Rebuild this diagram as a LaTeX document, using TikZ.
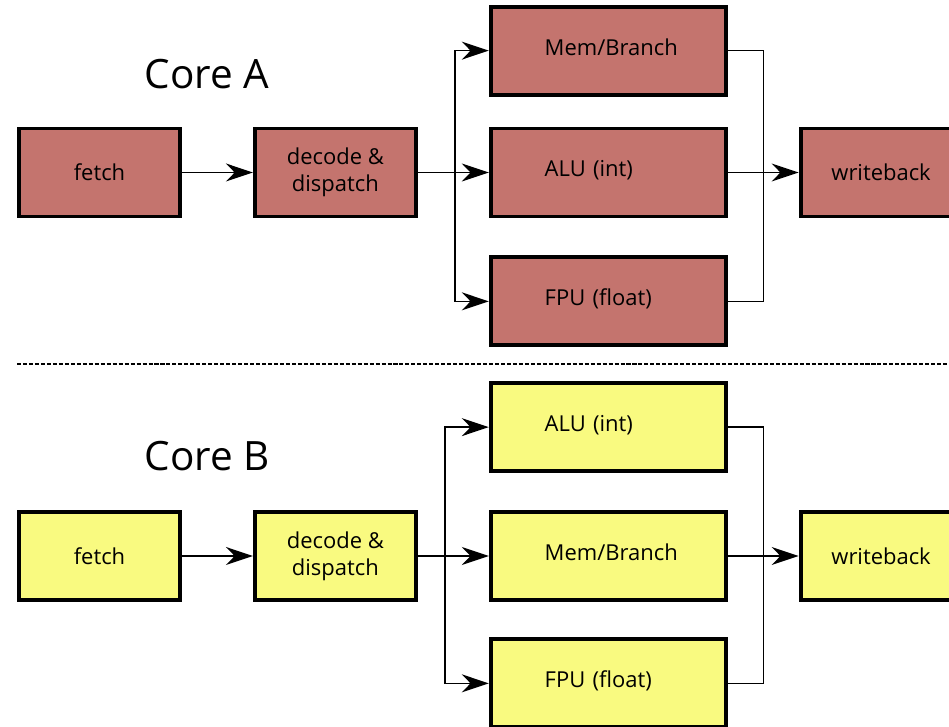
\documentclass[tikz,border=0pt]{standalone}
\usepackage{fontspec}
\setmainfont{Open Sans}
\usetikzlibrary{arrows.meta, positioning}

\definecolor{coreAred}{RGB}{196,116,110}
\definecolor{coreByellow}{RGB}{249,250,128}

\begin{document}
\begin{tikzpicture}[
		node distance=1.42cm and 1.42cm,
		every node/.style={font=\fontsize{12.5}{15.3}\selectfont},
		stage/.style={draw, line width=2.2pt, minimum width=3.22cm, minimum height=1.76cm, align=center, inner sep=0pt},
		unit/.style={draw, line width=2.2pt, text width=2.54cm, inner xsep=1.08cm, minimum height=1.76cm, text height=0.45cm, text depth=0.275cm, align=left},
		title/.style={font=\fontsize{23}{27}\selectfont},
		redA/.style={fill=coreAred},
		yelB/.style={fill=coreByellow},
		wire/.style={line width=0.8pt},
		sep/.style={line width=0.6pt, dash pattern=on 2.3pt off 1.1pt},
		->, >={Stealth[length=0.54cm, width=0.36cm]}, black
		]
		\useasboundingbox (0,0) rectangle (18.98,14.54);
		
		% Core A
		\node[title] at (4.14,13.06) (titleA) {Core A};
		\node[stage,redA] at (1.99,11.09) (fetchA) {fetch};
		\node[stage,redA,right = of fetchA] (decA) {decode \&\\dispatch};
		\node[unit,redA,right = of decA] (aluA) {ALU (int)};
		\node[unit,redA,above = 0.6cm of aluA] (memA) {Mem/Branch};
		\node[unit,redA,below = 0.74cm of aluA] (fpuA) {FPU (float)};
		\node[stage,redA,right = of aluA] (wbA) {writeback};
		\coordinate[right = 0.74cm of decA.east] (splitA);
		\coordinate[right = 0.72cm of aluA.east] (joinA);
		
		\draw[wire] (fetchA) -- (decA);
		\draw[wire] (decA) -- (aluA);
		\draw[wire] (splitA) |- (memA);
		\draw[wire] (splitA) |- (fpuA);
		\draw[wire,-] (memA) -| (joinA) |- (fpuA);
		\draw[wire] (aluA) -- (wbA);
		
		% separator
		\draw[sep,-] (fetchA.west |- 0,7.26) -- (18.98,7.26);
		
		% Core B
		\node[title] at (4.14,5.42) (titleB) {Core B};
		\node[stage,yelB] at (1.99,3.42) (fetchB) {fetch};
		\node[stage,yelB,right = of fetchB] (decB) {decode \&\\dispatch};
		\node[unit,yelB,right = of decB] (memB) {Mem/Branch};
		\node[unit,yelB,above = 0.74cm of memB] (aluB) {ALU (int)};
		\node[unit,yelB,below = 0.71cm of memB] (fpuB) {FPU (float)};
		\node[stage,yelB,right = of memB] (wbB) {writeback};
		\coordinate[right = 0.54cm of decB.east] (splitB);
		\coordinate[right = 0.72cm of memB.east] (joinB);
		
		\draw[wire] (fetchB) -- (decB);
		\draw[wire] (decB) -- (memB);
		\draw[wire] (splitB) |- (aluB);
		\draw[wire] (splitB) |- (fpuB);
		\draw[wire,-] (aluB) -| (joinB) |- (fpuB);
		\draw[wire] (memB) -- (wbB);
		
	\end{tikzpicture}
\end{document}
